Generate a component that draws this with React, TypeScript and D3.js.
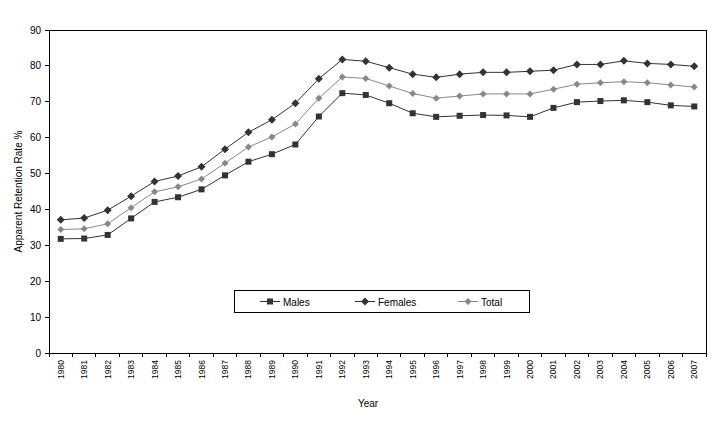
import React from "react";
import * as d3 from "d3";

const years = [
  "1980","1981","1982","1983","1984","1985","1986","1987","1988","1989",
  "1990","1991","1992","1993","1994","1995","1996","1997","1998","1999",
  "2000","2001","2002","2003","2004","2005","2006","2007",
];
const males = [31.8,31.9,32.9,37.5,42.1,43.4,45.6,49.5,53.3,55.4,58.1,65.9,72.4,71.9,69.6,66.8,65.8,66.1,66.3,66.2,65.8,68.3,69.9,70.2,70.4,69.9,69.0,68.7];
const females = [37.1,37.6,39.8,43.7,47.8,49.3,51.9,56.8,61.5,65.0,69.6,76.4,81.8,81.3,79.5,77.7,76.8,77.7,78.2,78.2,78.5,78.8,80.4,80.4,81.4,80.7,80.4,79.9];
const total = [34.4,34.6,36.0,40.5,44.9,46.3,48.5,52.9,57.4,60.2,63.8,71.0,76.9,76.5,74.4,72.3,71.0,71.6,72.2,72.2,72.2,73.5,74.9,75.3,75.6,75.3,74.7,74.1];
const yTicks = [0,10,20,30,40,50,60,70,80,90];
const seriesNames = ["Males","Females","Total"];

const W = 715, H = 441;
const L = 49, R = 706, T = 30, B = 353;
const FONT = "'Liberation Sans', Arial, sans-serif";

type Marker = "square" | "diamond";
const series = [
  { name: seriesNames[0], values: males, color: "#333333", marker: "square" as Marker, size: 6 },
  { name: seriesNames[1], values: females, color: "#333333", marker: "diamond" as Marker, size: 8 },
  { name: seriesNames[2], values: total, color: "#888888", marker: "diamond" as Marker, size: 7 },
];

function MarkerShape({ x, y, type, size, color }: { x: number; y: number; type: Marker; size: number; color: string }) {
  if (type === "square") {
    return <rect x={x - size / 2} y={y - size / 2} width={size} height={size} fill={color} />;
  }
  const h = size / 2;
  return <path d={`M${x},${y - h}L${x + h},${y}L${x},${y + h}L${x - h},${y}Z`} fill={color} />;
}

export default function App() {
  const x = d3.scaleBand<string>().domain(years).range([L, R]);
  const y = d3.scaleLinear().domain([0, 90]).range([B, T]);
  const cx = (d: string) => (x(d) as number) + x.bandwidth() / 2;
  const line = d3.line<number>().x((_, i) => cx(years[i])).y((v) => y(v));

  const legendItems = [
    { s: series[0], lx: 260, tx: 283 },
    { s: series[1], lx: 355, tx: 378 },
    { s: series[2], lx: 458, tx: 481 },
  ];

  return (
    <svg width={W} height={H} style={{ position: "absolute", left: 0, top: 0, background: "#fff" }} fontFamily={FONT}>
      <rect x={0} y={0} width={W} height={H} fill="#fff" />
      {/* plot border */}
      <rect x={L} y={T} width={R - L} height={B - T} fill="none" stroke="#000" strokeWidth={1} shapeRendering="crispEdges" />
      {/* y ticks */}
      {yTicks.map((t) => (
        <g key={t}>
          <line x1={L - 4} x2={L} y1={y(t)} y2={y(t)} stroke="#000" shapeRendering="crispEdges" />
          <text x={L - 8} y={y(t)} textAnchor="end" dominantBaseline="central" fontSize={10} fill="#000">{t}</text>
        </g>
      ))}
      {/* x ticks */}
      {years.map((yr, i) => (
        <line key={"t" + yr} x1={(x(yr) as number)} x2={(x(yr) as number)} y1={B} y2={B + 4} stroke="#000" shapeRendering="crispEdges" />
      ))}
      <line x1={R} x2={R} y1={B} y2={B + 4} stroke="#000" shapeRendering="crispEdges" />
      {years.map((yr) => (
        <text key={"l" + yr} transform={`translate(${cx(yr)},${360}) rotate(-90)`} textAnchor="end" dominantBaseline="central" fontSize={8.5} fill="#000">{yr}</text>
      ))}
      {/* lines */}
      {series.map((s) => (
        <g key={s.name}>
          <path d={line(s.values) || ""} fill="none" stroke={s.color} strokeWidth={1} />
          {s.values.map((v, i) => (
            <MarkerShape key={i} x={cx(years[i])} y={y(v)} type={s.marker} size={s.size} color={s.color} />
          ))}
        </g>
      ))}
      {/* legend */}
      <rect x={234.5} y={290.5} width={295} height={22} fill="#fff" stroke="#000" strokeWidth={1} />
      {legendItems.map(({ s, lx, tx }) => (
        <g key={"lg" + s.name}>
          <line x1={lx} x2={lx + 20} y1={301.5} y2={301.5} stroke={s.color} />
          <MarkerShape x={lx + 10} y={301.5} type={s.marker} size={s.size} color={s.color} />
          <text x={tx} y={302} dominantBaseline="central" fontSize={10} fill="#000">{s.name}</text>
        </g>
      ))}
      {/* axis titles */}
      <text transform={`translate(18,${(T + B) / 2}) rotate(-90)`} textAnchor="middle" dominantBaseline="central" fontSize={10} fill="#000">Apparent Retention Rate %</text>
      <text x={368} y={403} textAnchor="middle" dominantBaseline="central" fontSize={10} fill="#000">Year</text>
    </svg>
  );
}
